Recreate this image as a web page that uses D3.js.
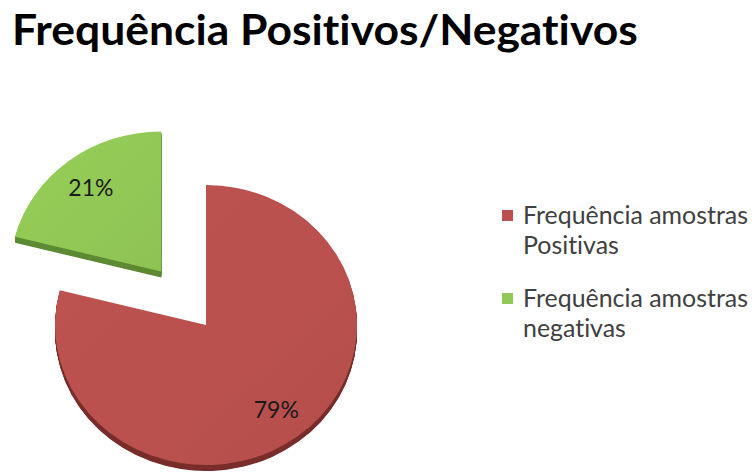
<!DOCTYPE html>
<html>
<head>
<meta charset="utf-8">
<script src="https://cdn.jsdelivr.net/npm/d3@7"></script>
<style>
  html, body { margin: 0; padding: 0; background: #fff; }
  svg { display: block; }
  text { font-variant-ligatures: none; font-feature-settings: "liga" 0, "clig" 0; }
</style>
</head>
<body>
<svg id="chart" width="752" height="473"></svg>
<script>
const title = "Frequência Positivos/Negativos";
const categories = ["Frequência amostras Positivas", "Frequência amostras negativas"];
const legendLines = [["Frequência amostras", "Positivas"], ["Frequência amostras", "negativas"]];
const values = [79, 21];
const labels = ["79%", "21%"];
const colors = ["#BA514E", "#92C956"];
const sideColors = ["#7A2E2C", "#5E8A34"];
const explode = [0, 73];

const svg = d3.select("#chart");
const W = 752, H = 473;

const tg = svg.append("g");
const t = tg.append("text")
  .attr("x", 0).attr("y", 0)
  .attr("font-family", "Lato, 'Open Sans', sans-serif")
  .attr("font-weight", "bold")
  .attr("font-size", 42)
  .attr("fill", "#000")
  .text(title);
const tw = t.node().getComputedTextLength();
tg.attr("transform", `translate(12,45) scale(${626 / tw},1)`);

const cx = 206, cy = 325, rx = 151, ry = 140, depth = 6;
const k = ry / rx;

const pie = d3.pie().sort(null).value(d => d).startAngle(0).endAngle(2 * Math.PI);
const arcs = pie(values);
const arc = d3.arc().innerRadius(0).outerRadius(rx);
const labelArc = d3.arc().innerRadius(rx * 0.76).outerRadius(rx * 0.76);

const defs = svg.append("defs");
colors.forEach((c, i) => {
  const g = defs.append("linearGradient").attr("id", "g" + i)
    .attr("x1", "0").attr("y1", "0").attr("x2", "1").attr("y2", "1");
  g.append("stop").attr("offset", "0").attr("stop-color", d3.color(c).brighter(0.08));
  g.append("stop").attr("offset", "1").attr("stop-color", d3.color(c).darker(0.08));
});

const pieG = svg.append("g");
arcs.forEach((a, i) => {
  const mid = (a.startAngle + a.endAngle) / 2;
  const ox = Math.sin(mid) * explode[i];
  const oy = -Math.cos(mid) * explode[i] * k;
  const g = pieG.append("g").attr("transform", `translate(${cx + ox},${cy + oy})`);
  for (let d = depth; d >= 1; d -= 0.5) {
    g.append("path")
      .attr("transform", `translate(0,${d}) scale(1,${k})`)
      .attr("d", arc(a))
      .attr("fill", sideColors[i]);
  }
  g.append("path")
    .attr("transform", `scale(1,${k})`)
    .attr("d", arc(a))
    .attr("fill", `url(#g${i})`);
  const c = labelArc.centroid(a);
  g.append("text")
    .attr("x", c[0]).attr("y", c[1] * k)
    .attr("text-anchor", "middle")
    .attr("dominant-baseline", "central")
    .attr("font-family", "Lato, 'Open Sans', sans-serif")
    .attr("font-size", 23)
    .attr("fill", "#1a1a1a")
    .text(labels[i]);
});

const lg = svg.append("g");
const legY = [216, 299];
categories.forEach((cat, i) => {
  lg.append("rect")
    .attr("x", 502).attr("y", legY[i] - 6)
    .attr("width", 11).attr("height", 11)
    .attr("fill", colors[i]);
  legendLines[i].forEach((ln, j) => {
    lg.append("text")
      .attr("x", 523).attr("y", legY[i] + 8 + j * 30)
      .attr("font-family", "Lato, 'Open Sans', sans-serif")
      .attr("font-size", 20)
      .attr("fill", "#404040")
      .attr("class", "lt")
      .text(ln);
  });
});
const first = lg.select("text.lt");
const lw = first.node().getComputedTextLength();
lg.selectAll("text.lt").attr("font-size", 20 * 225 / lw);
</script>
</body>
</html>
